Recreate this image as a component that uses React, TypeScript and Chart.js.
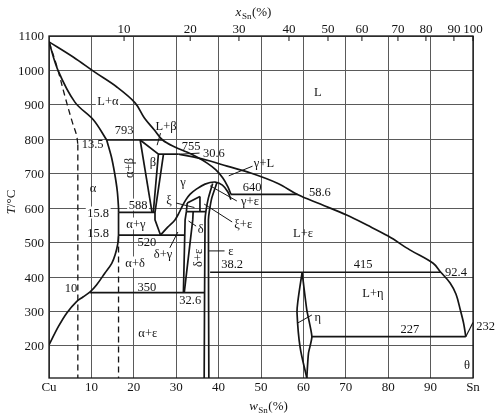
import React, { useEffect, useRef } from 'react';
import { Chart, registerables } from 'chart.js';

Chart.register(...registerables);

type P = [number, number];

// ---- axes ----
const wTicks = [0, 10, 20, 30, 40, 50, 60, 70, 80, 90, 100];
const wTickLabels = ['Cu', '10', '20', '30', '40', '50', '60', '70', '80', '90', 'Sn'];
const tTicks = [200, 300, 400, 500, 600, 700, 800, 900, 1000, 1100];
const xAtTickPos = [17.7, 33.3, 44.8, 56.6, 65.8, 73.8, 82.3, 88.9, 95.5, 100];
const xAtTickLabels = ['10', '20', '30', '40', '50', '60', '70', '80', '90', '100'];
const T_MIN = 107;
const T_MAX = 1100;

// ---- phase boundaries (w_Sn %, T °C) ----
const liquidusLeft: P[] = [[0, 1083], [5.7, 1039], [10.8, 995], [16, 952], [20.3, 906], [22.5, 862], [24.8, 828], [26.8, 798], [29.8, 777], [32.5, 763], [35, 748], [37.3, 731], [39.3, 712], [41, 688], [42.2, 662], [42.9, 640]];
const liquidusRight: P[] = [[30.6, 757], [34, 749], [38, 737], [42, 722], [47.4, 703], [54, 672], [58.6, 640], [64, 612], [70.2, 580], [75, 551], [80, 519], [85.1, 479], [90.6, 440], [92.4, 414], [94.6, 383], [96, 350], [97, 305], [97.8, 265], [98.3, 227]];
const solidusAlpha: P[] = [[0, 1083], [2.1, 1001], [6.1, 908], [10.5, 856], [13.6, 798]];
const dashedCurve: P[] = [[0, 1083], [1.9, 1010], [3.8, 923], [5.5, 850], [6.5, 812], [6.8, 785]];
const dashedLine1: P[] = [[6.8, 785], [6.8, 107]];
const dashedLine2: P[] = [[16.4, 518], [16.4, 107]];
const solvusUpper: P[] = [[13.6, 798], [14.7, 750], [15.5, 700], [16.1, 650], [16.4, 600], [16.4, 588]];
const solvusMid: P[] = [[16.4, 588], [16.4, 522]];
const solvusLower: P[] = [[16.4, 522], [16.2, 495], [15.6, 465], [14.8, 440], [13.2, 412], [11.2, 377], [9.7, 357], [8.0, 342], [6.5, 329], [4.2, 296], [2.2, 256], [0, 203]];
const line793: P[] = [[13.6, 798], [26.8, 798]];
const betaLeft: P[] = [[21.5, 798], [24.3, 588]];
const betaRight: P[] = [[21.5, 798], [25.8, 757], [24.6, 588]];
const gammaLeft: P[] = [[27.0, 757], [25.0, 588], [25.0, 566], [26.3, 522]];
const line755: P[] = [[25.8, 757], [30.6, 757]];
const line588: P[] = [[16.4, 588], [25.0, 588]];
const line520: P[] = [[16.4, 522], [32.0, 522]];
const line350: P[] = [[9.7, 355], [36.7, 355]];
const line640: P[] = [[42.9, 640], [58.6, 640]];
const line415: P[] = [[38.0, 414], [92.4, 414]];
const line227: P[] = [[62, 227], [98.3, 227]];
const dome: P[] = [[26.3, 522], [28.0, 545], [29.7, 566], [30.6, 585], [31.4, 605], [32.3, 625], [33.3, 641], [34.6, 654], [36.8, 670], [39.2, 676], [40.9, 667], [42.2, 647], [42.9, 625]];
const epsLeft: P[] = [[38.6, 672], [37.6, 630], [37.0, 590], [36.8, 566], [36.6, 107]];
const epsRight: P[] = [[39.6, 674], [38.4, 630], [37.8, 590], [37.6, 566], [37.7, 107]];
const deltaLeft: P[] = [[32.4, 590], [32.1, 566], [31.7, 355]];
const deltaRight: P[] = [[34.0, 590], [33.9, 566], [31.9, 355]];
const xiTop: P[] = [[32.6, 615], [35.6, 634]];
const xiRight: P[] = [[35.6, 634], [35.6, 590]];
const xiLeft: P[] = [[32.6, 615], [32.4, 590]];
const line590: P[] = [[32.4, 590], [37.0, 590]];
const etaLeft: P[] = [[59.7, 414], [58.7, 330], [58.5, 295], [59.2, 198], [60.8, 107]];
const etaRight: P[] = [[59.7, 414], [60.8, 305], [62, 227], [61.2, 179], [60.8, 107]];
const sn232: P[] = [[98.3, 227], [100, 268]];

// ---- leader lines ----
const leaders: P[][] = [
  [[26.3, 818], [25.5, 783]],
  [[35.5, 760], [31.0, 757]],
  [[48.0, 722], [42.4, 694]],
  [[44.3, 621], [38.0, 665]],
  [[43.2, 560], [36.6, 612]],
  [[30.0, 615], [34.3, 602]],
  [[32.9, 563], [34.7, 548]],
  [[28.5, 485], [30.4, 531]],
  [[37.5, 476], [41.4, 476]],
  [[58.7, 267], [62.0, 290]],
];

// ---- text labels ----
type Lab = { t: string; w: number; T: number; bg?: boolean; rot?: boolean };
const labels: Lab[] = [
  { t: 'L', w: 63.4, T: 937 },
  { t: 'L+α', w: 13.9, T: 911, bg: true },
  { t: 'L+β', w: 27.6, T: 839 },
  { t: '793', w: 17.7, T: 827 },
  { t: '13.5', w: 10.3, T: 787 },
  { t: 'α+β', w: 18.9, T: 717, rot: true },
  { t: 'β', w: 24.5, T: 734 },
  { t: '755', w: 33.5, T: 781 },
  { t: '30.6', w: 38.9, T: 760 },
  { t: 'γ+L', w: 50.7, T: 731 },
  { t: 'γ', w: 31.6, T: 676 },
  { t: 'α', w: 10.4, T: 659 },
  { t: 'ξ', w: 28.3, T: 624 },
  { t: '588', w: 21, T: 609, bg: true },
  { t: '15.8', w: 11.6, T: 586, bg: true },
  { t: '15.8', w: 11.6, T: 528 },
  { t: 'α+γ', w: 20.5, T: 554, bg: true },
  { t: '640', w: 47.9, T: 662 },
  { t: '58.6', w: 63.9, T: 647 },
  { t: 'γ+ε', w: 47.4, T: 621 },
  { t: 'ξ+ε', w: 45.8, T: 554 },
  { t: 'δ', w: 35.8, T: 540 },
  { t: '520', w: 23.1, T: 502 },
  { t: 'δ+γ', w: 26.9, T: 467 },
  { t: 'L+ε', w: 59.9, T: 528 },
  { t: 'ε', w: 42.9, T: 476 },
  { t: 'α+δ', w: 20.3, T: 441, bg: true },
  { t: 'δ+ε', w: 35.1, T: 456, rot: true },
  { t: '415', w: 74.1, T: 438 },
  { t: '38.2', w: 43.2, T: 438 },
  { t: '92.4', w: 96, T: 415 },
  { t: '10', w: 5.2, T: 368 },
  { t: '350', w: 23.1, T: 371 },
  { t: 'L+η', w: 76.4, T: 354 },
  { t: '32.6', w: 33.3, T: 334 },
  { t: 'η', w: 63.4, T: 284 },
  { t: '232', w: 103, T: 258 },
  { t: '227', w: 85.1, T: 249 },
  { t: 'α+ε', w: 23.3, T: 238, bg: true },
  { t: 'θ', w: 98.6, T: 145 },
];

const SERIF = "'Liberation Serif', 'DejaVu Serif', serif";
const INK = '#151515';

function mk(pts: P[], opt: Record<string, unknown> = {}) {
  return {
    data: pts.map(([x, y]) => ({ x, y })),
    showLine: true,
    pointRadius: 0,
    borderColor: INK,
    borderWidth: 1.7,
    tension: 0,
    fill: false,
    ...opt,
  };
}

const curve = { tension: 0.35 };

function buildDatasets() {
  const ds: any[] = [
    mk(liquidusLeft, curve),
    mk(liquidusRight, curve),
    mk(solidusAlpha, curve),
    mk(dashedCurve, { ...curve, borderDash: [6, 4], borderWidth: 1.3 }),
    mk(dashedLine1, { borderDash: [6, 4], borderWidth: 1.3 }),
    mk(dashedLine2, { borderDash: [6, 4], borderWidth: 1.3 }),
    mk(solvusUpper, curve),
    mk(solvusMid),
    mk(solvusLower, curve),
    mk(line793), mk(betaLeft), mk(betaRight), mk(gammaLeft), mk(line755),
    mk(line588), mk(line520), mk(line350), mk(line640), mk(line415), mk(line227),
    mk(dome, curve),
    mk(epsLeft, { tension: 0.2 }), mk(epsRight, { tension: 0.2 }),
    mk(deltaLeft), mk(deltaRight),
    mk(xiTop), mk(xiRight), mk(xiLeft), mk(line590),
    mk(etaLeft, curve), mk(etaRight, { tension: 0.2 }),
    mk(sn232, { borderWidth: 1.2 }),
  ];
  leaders.forEach((l) => ds.push(mk(l, { borderWidth: 1 })));
  return ds;
}

function drawTitle(ctx: CanvasRenderingContext2D, cx: number, by: number, main: string, sub: string, tail: string, size: number) {
  ctx.font = `italic ${size}px ${SERIF}`;
  const w1 = ctx.measureText(main).width;
  ctx.font = `${Math.round(size * 0.72)}px ${SERIF}`;
  const w2 = ctx.measureText(sub).width;
  ctx.font = `${size}px ${SERIF}`;
  const w3 = ctx.measureText(tail).width;
  let x = cx - (w1 + w2 + w3) / 2;
  ctx.textAlign = 'left';
  ctx.textBaseline = 'alphabetic';
  ctx.font = `italic ${size}px ${SERIF}`;
  ctx.fillText(main, x, by);
  x += w1 + 0.5;
  ctx.font = `${Math.round(size * 0.72)}px ${SERIF}`;
  ctx.fillText(sub, x, by + 3);
  x += w2 + 0.5;
  ctx.font = `${size}px ${SERIF}`;
  ctx.fillText(tail, x, by);
}

const overlay = {
  id: 'overlay',
  afterDatasetsDraw(chart: any) {
    const { ctx, chartArea: a, scales } = chart;
    const sx = scales.x;
    const sy = scales.y;
    ctx.save();
    // frame
    ctx.strokeStyle = INK;
    ctx.lineWidth = 1.3;
    ctx.strokeRect(a.left, a.top, a.right - a.left, a.bottom - a.top);

    ctx.fillStyle = INK;
    // left tick labels
    ctx.font = `13px ${SERIF}`;
    ctx.textAlign = 'right';
    ctx.textBaseline = 'middle';
    tTicks.forEach((v) => ctx.fillText(String(v), a.left - 5, sy.getPixelForValue(v) + 1));
    // bottom tick labels
    ctx.textAlign = 'center';
    ctx.textBaseline = 'top';
    wTicks.forEach((v, i) => ctx.fillText(wTickLabels[i], sx.getPixelForValue(v), a.bottom + 3));
    // top ticks (atomic %)
    ctx.textBaseline = 'alphabetic';
    ctx.lineWidth = 1;
    xAtTickPos.forEach((v, i) => {
      const px = sx.getPixelForValue(v);
      ctx.fillText(xAtTickLabels[i], px, a.top - 3);
      ctx.beginPath();
      ctx.moveTo(px, a.top);
      ctx.lineTo(px, a.top + 5);
      ctx.stroke();
    });

    // axis titles
    drawTitle(ctx, 253, 16, 'x', 'Sn', '(%)', 13);
    drawTitle(ctx, 268, 410, 'w', 'Sn', '(%)', 13);
    ctx.save();
    ctx.translate(15, 202);
    ctx.rotate(-Math.PI / 2);
    ctx.font = `italic 13px ${SERIF}`;
    const tw = ctx.measureText('T').width;
    ctx.font = `13px ${SERIF}`;
    const rw = ctx.measureText('/°C').width;
    ctx.textAlign = 'left';
    ctx.textBaseline = 'alphabetic';
    ctx.font = `italic 13px ${SERIF}`;
    ctx.fillText('T', -(tw + rw) / 2, 0);
    ctx.font = `13px ${SERIF}`;
    ctx.fillText('/°C', -(tw + rw) / 2 + tw, 0);
    ctx.restore();

    // region labels
    ctx.font = `12.5px ${SERIF}`;
    labels.forEach((l) => {
      const px = sx.getPixelForValue(l.w);
      const py = sy.getPixelForValue(l.T);
      const m = ctx.measureText(l.t).width;
      ctx.save();
      ctx.translate(px, py);
      if (l.rot) ctx.rotate(-Math.PI / 2);
      if (l.bg) {
        ctx.fillStyle = '#fff';
        ctx.fillRect(-m / 2 - 1.5, -6.5, m + 3, 12);
      }
      ctx.fillStyle = INK;
      ctx.textAlign = 'center';
      ctx.textBaseline = 'middle';
      ctx.fillText(l.t, 0, 0.5);
      ctx.restore();
    });
    ctx.restore();
  },
};

export default function App() {
  const ref = useRef<HTMLCanvasElement>(null);
  useEffect(() => {
    const c = ref.current;
    if (!c) return;
    const chart = new Chart(c, {
      type: 'scatter',
      data: { datasets: buildDatasets() },
      options: {
        animation: false,
        responsive: false,
        maintainAspectRatio: false,
        devicePixelRatio: 1,
        events: [],
        layout: { padding: { left: 49, right: 27, top: 36, bottom: 42 } },
        plugins: { legend: { display: false }, tooltip: { enabled: false } },
        scales: {
          x: {
            type: 'linear', min: 0, max: 100,
            ticks: { display: false },
            grid: { color: '#5a5a5a', lineWidth: 1, drawTicks: false },
            border: { display: false },
            afterBuildTicks: (s: any) => { s.ticks = wTicks.map((v) => ({ value: v })); },
            afterFit: (s: any) => { s.height = 0; },
          },
          y: {
            type: 'linear', min: T_MIN, max: T_MAX,
            ticks: { display: false },
            grid: { color: '#5a5a5a', lineWidth: 1, drawTicks: false },
            border: { display: false },
            afterBuildTicks: (s: any) => { s.ticks = tTicks.map((v) => ({ value: v })); },
            afterFit: (s: any) => { s.width = 0; },
          },
        },
      } as any,
      plugins: [overlay],
    });
    return () => chart.destroy();
  }, []);
  return (
    <div style={{ position: 'fixed', left: 0, top: 0, width: 500, height: 420, background: '#fff' }}>
      <canvas ref={ref} width={500} height={420} style={{ display: 'block' }} />
    </div>
  );
}
